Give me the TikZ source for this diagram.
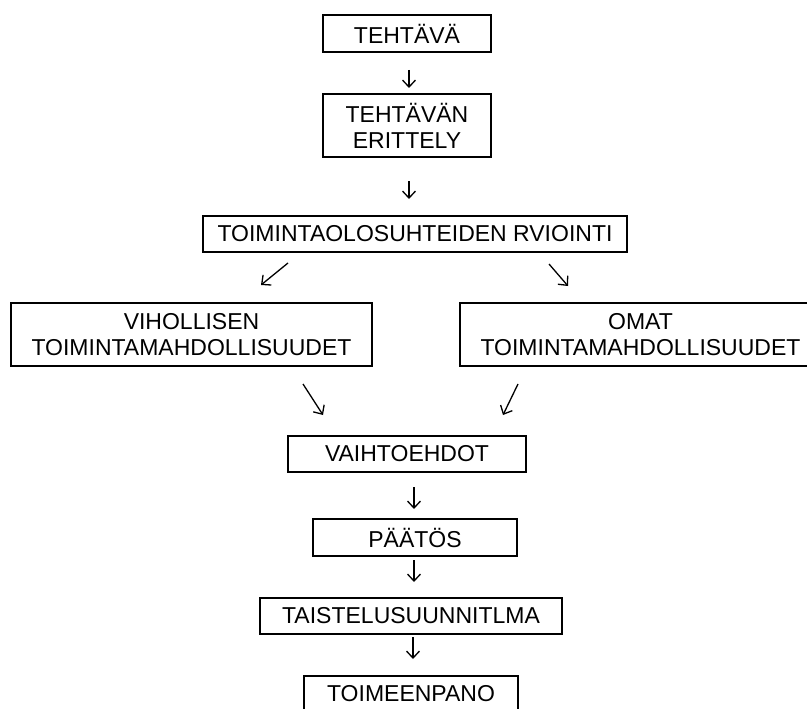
\documentclass[tikz,border=0pt]{standalone}
\usepackage{fontspec}
\setmainfont{Liberation Sans}
\usetikzlibrary{arrows.meta}
\begin{document}
\begin{tikzpicture}[x=1pt,y=-1pt,
  box/.style={draw=black,line width=1.3pt,inner sep=0pt,align=center,
    font=\fontsize{23}{26}\selectfont},
  arr/.style={line width=1.3pt,-{Straight Barb[length=7pt,width=13pt]}}]
\useasboundingbox (0,0) rectangle (807,709);
\clip (0,0) rectangle (807,709);
\fill[white] (0,0) rectangle (807,709);
% boxes
\node[box,minimum width=168pt,minimum height=37pt] (teh) at (407,33.5) {TEHTÄVÄ};
\node[box,minimum width=168pt,minimum height=63pt] (eri) at (407,125.5) {TEHTÄVÄN\\ERITTELY};
\node[box,minimum width=424pt,minimum height=36pt] (toi) at (415,234) {TOIMINTAOLOSUHTEIDEN RVIOINTI};
\node[box,minimum width=361pt,minimum height=63pt] (vih) at (191.5,334.5) {VIHOLLISEN\\TOIMINTAMAHDOLLISUUDET};
\node[box,minimum width=361pt,minimum height=63pt] (oma) at (640.5,334.5) {OMAT\\TOIMINTAMAHDOLLISUUDET};
\node[box,minimum width=238pt,minimum height=36pt] (vai) at (407,454) {VAIHTOEHDOT};
\node[box,minimum width=204pt,minimum height=37pt] (paa) at (415,537.5) {PÄÄTÖS};
\node[box,minimum width=302pt,minimum height=36pt] (tai) at (411,616) {TAISTELUSUUNNITLMA};
\node[box,minimum width=214pt,minimum height=36pt] (tme) at (411,694) {TOIMEENPANO};
% arrow end points
\coordinate (a1s) at (409,70);   \coordinate (a1e) at (409,88);
\coordinate (a2s) at (409,181);  \coordinate (a2e) at (409,199);
\coordinate (a3s) at (288,263);  \coordinate (a3e) at (261,285);
\coordinate (a4s) at (549,264);  \coordinate (a4e) at (568,286);
\coordinate (a5s) at (303,384);  \coordinate (a5e) at (323,415);
\coordinate (a6s) at (518,384);  \coordinate (a6e) at (503,415);
\coordinate (a7s) at (414,487);  \coordinate (a7e) at (414,509);
\coordinate (a8s) at (414,560);  \coordinate (a8e) at (414,582);
\coordinate (a9s) at (413,637);  \coordinate (a9e) at (413,659);
\foreach \i in {1,...,9} \draw[arr] (a\i s) -- (a\i e);
\end{tikzpicture}
\end{document}
